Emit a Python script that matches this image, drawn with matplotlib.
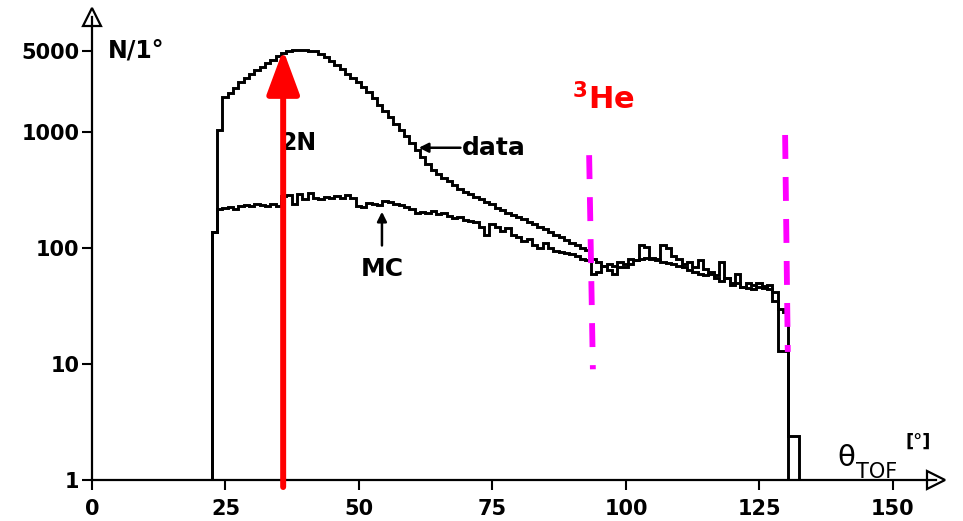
import numpy as np
import matplotlib.pyplot as plt
from matplotlib.patches import ArrowStyle

# 1 degree bins, first edge at 22.4 deg
bin_start = 22.4
bin_width = 1.0

data_counts = [
    137, 1040, 2000, 2150, 2400, 2700, 2900, 3150, 3400, 3650,
    3950, 4200, 4500, 4800, 5000, 5050, 5100, 5050, 5000, 4950,
    4700, 4400, 4100, 3800, 3450, 3150, 2900, 2700, 2450, 2200,
    1950, 1720, 1520, 1340, 1180, 1040, 920, 800, 700, 610,
    530, 470, 430, 400, 375, 350, 325, 305, 290, 275,
    262, 250, 238, 222, 212, 200, 192, 184, 176, 168,
    160, 152, 145, 138, 130, 123, 117, 111, 106, 100,
    96, 80, 75, 70, 72, 70, 68, 68, 72, 78,
    80, 82, 80, 78, 76, 74, 72, 70, 68, 65,
    62, 60, 58, 60, 55, 52, 55, 48, 50, 46,
    45, 44, 46, 45, 44, 42, 30, 28, 2.4, 2.4,
]

mc_counts = [
    137, 215, 220, 225, 218, 228, 235, 230, 240, 235,
    228, 240, 232, 280, 285, 238, 290, 265, 300, 270,
    265, 275, 270, 282, 268, 285, 270, 230, 225, 245,
    240, 235, 255, 250, 240, 235, 225, 215, 200, 205,
    200, 210, 195, 200, 190, 180, 185, 175, 170, 168,
    150, 130, 160, 150, 140, 148, 130, 125, 115, 120,
    105, 100, 110, 100, 95, 92, 90, 88, 85, 80,
    78, 60, 62, 70, 64, 60, 75, 72, 80, 78,
    105, 102, 82, 80, 105, 100, 85, 80, 72, 75,
    68, 78, 66, 62, 58, 75, 55, 50, 60, 46,
    50, 48, 50, 47, 48, 35, 13, 13, 1, 1,
]

x_ticks = [0, 25, 50, 75, 100, 125, 150]
y_ticks = [1, 10, 100, 1000, 5000]
y_tick_labels = ["1", "10", "100", "1000", "5000"]

# 2N peak marker and the two 3He cut lines (top -> bottom)
arrow_x = 35.8
cut_lo_x = [93.1, 93.8]
cut_lo_y = [630, 9.0]
cut_hi_x = [129.8, 130.3]
cut_hi_y = [940, 12.7]

edges = bin_start + bin_width * np.arange(len(data_counts) + 1)

fig = plt.figure(figsize=(9.63, 5.21), dpi=100)
ax = fig.add_axes([92 / 963, 41 / 521, 843.7 / 963, 463 / 521])

ax.stairs(mc_counts, edges, baseline=1, color="black", lw=2.1)
ax.stairs(data_counts, edges, baseline=1, color="black", lw=2.1)

ax.set_yscale("log")
ax.set_xlim(0, 158)
ax.set_ylim(1, 10 ** 3.99)

ax.set_xticks(x_ticks)
ax.set_xticklabels([str(t) for t in x_ticks])
ax.set_yticks(y_ticks)
ax.set_yticklabels(y_tick_labels)
ax.minorticks_off()
ax.tick_params(axis="both", direction="out", length=7, width=1.5,
               labelsize=15)
ax.tick_params(axis="x", pad=7)
ax.tick_params(axis="y", pad=2)
for lbl in ax.get_xticklabels() + ax.get_yticklabels():
    lbl.set_fontweight("bold")

for side in ["top", "right"]:
    ax.spines[side].set_visible(False)
for side in ["left", "bottom"]:
    ax.spines[side].set_linewidth(1.6)

# open arrow heads at the axis ends
ax.plot(1, 0, marker=">", ms=13, mfc="white", mec="black", mew=1.6,
        transform=ax.transAxes, clip_on=False)
ax.plot(0, 1, marker="^", ms=13, mfc="white", mec="black", mew=1.6,
        transform=ax.transAxes, clip_on=False)

# labels
ax.text(3.0, 5000, "N/1°", fontsize=17, fontweight="bold",
        va="center", ha="left")
ax.text(35.2, 800, "2N", fontsize=17, fontweight="bold",
        va="center", ha="left", zorder=1)
ax.text(69.3, 730, "data", fontsize=18, fontweight="bold",
        va="center", ha="left")
ax.annotate("", xy=(61.2, 730), xytext=(69.0, 730),
            arrowprops=dict(arrowstyle="-|>", color="black", lw=1.8,
                            mutation_scale=14, shrinkA=0, shrinkB=0))
ax.text(54.3, 66, "MC", fontsize=18, fontweight="bold",
        va="center", ha="center")
ax.annotate("", xy=(54.3, 205), xytext=(54.3, 105),
            arrowprops=dict(arrowstyle="-|>", color="black", lw=1.8,
                            mutation_scale=14, shrinkA=0, shrinkB=0))

ax.text(139.5, 1.55, "θ", fontsize=21, va="center", ha="left")
ax.text(143.0, 1.18, "TOF", fontsize=15, va="center", ha="left")
ax.text(152.3, 2.15, "[°]", fontsize=13, fontweight="bold",
        va="center", ha="left")

# red arrow up to the 2N peak
ax.annotate("", xy=(arrow_x, max(data_counts)), xytext=(arrow_x, 0.87),
            annotation_clip=False,
            arrowprops=dict(arrowstyle=ArrowStyle("-|>", head_length=2.7,
                                                  head_width=1.0),
                            color="red", lw=4.3, mutation_scale=10,
                            shrinkA=0, shrinkB=0),
            zorder=5)

# 3He cut lines
for xs, ys in [(cut_lo_x, cut_lo_y), (cut_hi_x, cut_hi_y)]:
    ax.plot(xs, ys, color="#ff00ff", lw=4.2, dashes=(4.1, 3.1), zorder=6)

ax.text(95.8, 1900, r"$^{\mathbf{3}}\mathbf{He}$", color="red",
        fontsize=22, va="center", ha="center")

fig.savefig("out.png", dpi=100)
